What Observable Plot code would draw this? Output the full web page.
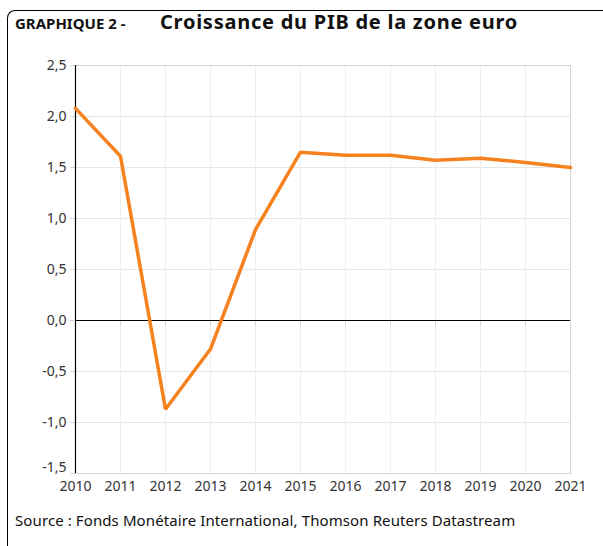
<!DOCTYPE html>
<html>
<head>
<meta charset="utf-8">
<script src="https://cdn.jsdelivr.net/npm/d3@7"></script>
<script src="https://cdn.jsdelivr.net/npm/@observablehq/plot@0.6"></script>
<style>
  html, body { margin: 0; padding: 0; background: #fff; }
  #wrap { position: relative; width: 603px; height: 546px; overflow: hidden; font-family: "Noto Sans", sans-serif; }
  #border { position: absolute; left: 7px; top: 10px; width: 620px; height: 560px; border-left: 1.5px solid #000; border-top: 1.5px solid #000; border-top-left-radius: 8px; }
  #t1 { position: absolute; left: 15px; top: 13px; font-size: 15px; font-weight: bold; color: #111; }
  #t2 { position: absolute; left: 160px; top: 8px; font-size: 20px; font-weight: bold; letter-spacing: 0.75px; color: #111; }
  #src { position: absolute; left: 15px; top: 510px; font-size: 15px; letter-spacing: 0.1px; color: #111; }
  #chart { position: absolute; left: 0; top: 40px; }
</style>
</head>
<body>
<div id="wrap">
  <div id="border"></div>
  <div id="t1">GRAPHIQUE 2 -</div>
  <div id="t2">Croissance du PIB de la zone euro</div>
  <div id="chart"></div>
  <div id="src">Source : Fonds Monétaire International, Thomson Reuters Datastream</div>
</div>
<script>
const years = [2010, 2011, 2012, 2013, 2014, 2015, 2016, 2017, 2018, 2019, 2020, 2021];
const growth = [2.08, 1.61, -0.87, -0.28, 0.89, 1.65, 1.62, 1.62, 1.57, 1.59, 1.55, 1.50];
const yTicks = [-1.5, -1.0, -0.5, 0, 0.5, 1.0, 1.5, 2.0, 2.5];

const data = years.map((y, i) => ({year: y, value: growth[i]}));
const fmt = d => d.toFixed(1).replace(".", ",");
const yMin = yTicks[0];

const plot = Plot.plot({
  width: 603,
  height: 460,
  marginTop: 25,
  marginBottom: 27,
  marginLeft: 75,
  marginRight: 33,
  style: {fontFamily: "Noto Sans, sans-serif", fontSize: "14px", color: "#333", background: "transparent"},
  x: {type: "linear", domain: [2010, 2021], label: null},
  y: {domain: [-1.5, 2.5], label: null},
  marks: [
    Plot.gridY(yTicks, {stroke: "#e6e6e6", strokeOpacity: 1}),
    Plot.gridX(years, {stroke: "#eeeeee", strokeOpacity: 1}),
    Plot.frame({stroke: "#d4d4d4"}),
    Plot.ruleX(years, {x: d => d, y1: 0, y2: -0.05, stroke: "#d4d4d4"}),
    Plot.axisY(yTicks, {tickFormat: d => d === yMin ? "" : fmt(d), tickSize: 5, stroke: "#d4d4d4", tickPadding: 4, fill: "#333", fontSize: 14, label: null}),
    Plot.axisY([yMin], {tickFormat: fmt, tickSize: 0, tickPadding: 9, dy: -6, fill: "#333", fontSize: 14, label: null}),
    Plot.axisX(years, {tickFormat: d => String(d), tickSize: 0, tickPadding: 8, fill: "#333", fontSize: 14, label: null}),
    Plot.ruleY([0], {stroke: "#000", strokeWidth: 1.2}),
    Plot.ruleX([2010], {stroke: "#000", strokeWidth: 1.2}),
    Plot.line(data, {x: "year", y: "value", stroke: "#F5821F", strokeWidth: 3.5, strokeLinejoin: "miter"})
  ]
});
document.getElementById("chart").appendChild(plot);
</script>
</body>
</html>
